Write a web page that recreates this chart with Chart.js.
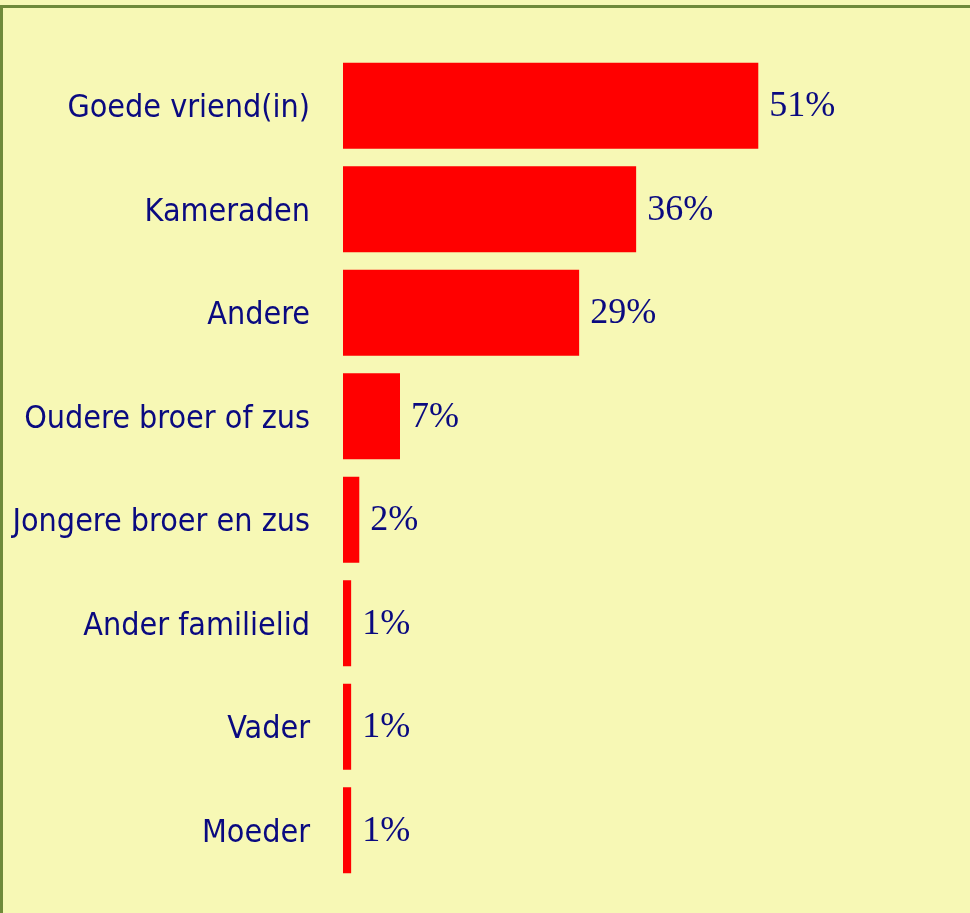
<!DOCTYPE html>
<html>
<head>
<meta charset="utf-8">
<script src="https://cdn.jsdelivr.net/npm/chart.js@4"></script>
<style>
  html, body { margin: 0; padding: 0; background: #F7F8B5; }
  #box { width: 970px; height: 913px; }
</style>
</head>
<body>
<div id="box"><canvas id="relaties"></canvas></div>
<script>
var categorieen = ['Goede vriend(in)', 'Kameraden', 'Andere', 'Oudere broer of zus',
  'Jongere broer en zus', 'Ander familielid', 'Vader', 'Moeder'];
var percentages = [51, 36, 29, 7, 2, 1, 1, 1];

// background + the olive frame lines (top and left)
var achtergrond = {
  id: 'achtergrond',
  beforeDraw: function(chart) {
    var c = chart.ctx;
    c.save();
    c.fillStyle = '#F7F8B5';
    c.fillRect(0, 0, chart.width, chart.height);
    c.fillStyle = '#6F8A3A';
    c.fillRect(0, 5, chart.width, 3);
    c.fillRect(0, 5, 3, chart.height);
    c.restore();
  }
};

// value labels next to each bar
var waardeLabels = {
  id: 'waardeLabels',
  afterDatasetsDraw: function(chart) {
    var c = chart.ctx;
    var meta = chart.getDatasetMeta(0);
    c.save();
    c.font = '36px "Liberation Serif", "DejaVu Serif", serif';
    c.fillStyle = '#0A0A80';
    c.textAlign = 'left';
    c.textBaseline = 'middle';
    meta.data.forEach(function(bar, i) {
      c.fillText(percentages[i] + '%', bar.x + 11, bar.y + 1);
    });
    c.restore();
  }
};

var relatieGrafiek = {
  type: 'bar',
  data: {
    labels: categorieen,
    datasets: [{
      data: percentages,
      backgroundColor: '#FF0000',
      borderWidth: 0,
      barPercentage: 0.83,
      categoryPercentage: 1
    }]
  },
  options: {
    indexAxis: 'y',
    responsive: true,
    maintainAspectRatio: false,
    animation: false,
    layout: { padding: { top: 54, bottom: 31, left: 0, right: 0 } },
    plugins: { legend: { display: false }, tooltip: { enabled: false } },
    scales: {
      x: { display: false, min: 0, max: 77 },
      y: {
        grid: { display: false, drawTicks: false },
        border: { display: false },
        ticks: {
          padding: 33,
          labelOffset: 3,
          color: '#0A0A80',
          font: { family: '"Liberation Sans Narrow", "DejaVu Sans Condensed", sans-serif', size: 32 }
        },
        afterFit: function(scale) {
          scale.width = 343;
          scale.paddingTop = 0;
          scale.paddingBottom = 0;
        }
      }
    }
  },
  plugins: [achtergrond, waardeLabels]
};

var ctx = document.getElementById('relaties').getContext('2d');
var relatieChart = new Chart(ctx, relatieGrafiek);
</script>
</body>
</html>
